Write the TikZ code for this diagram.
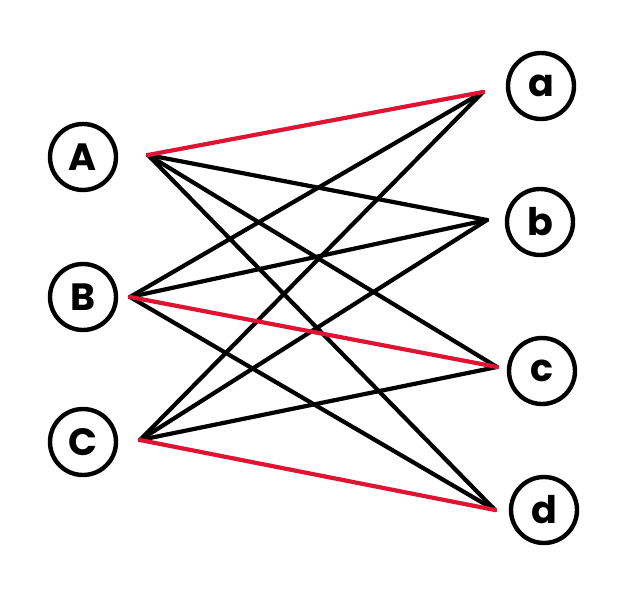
\documentclass[tikz,border=0pt]{standalone}
\usepackage{fontspec}
\setmainfont{Poppins}
\definecolor{edgered}{RGB}{222,20,50}
\begin{document}
\begin{tikzpicture}[x=1pt,y=-1pt,
  vtx/.style={circle,draw=black,line width=4.4pt,minimum size=66pt,inner sep=0pt,font=\fontsize{38}{40}\selectfont\bfseries},
  edge/.style={line width=4.2pt,line cap=round,black},
  redge/.style={edge,draw=edgered}]
\useasboundingbox (0,0) rectangle (640,593);
\node[vtx] (A) at (83,157) {A};
\node[vtx] (B) at (83,297) {B};
\node[vtx] (C) at (83,442) {C};
\node[vtx] (a) at (541,86) {a};
\node[vtx] (b) at (540,222) {b};
\node[vtx] (c) at (542,371) {c};
\node[vtx] (d) at (544,510) {d};
\coordinate (pA) at (148,155);
\coordinate (pB) at (130,297);
\coordinate (pC) at (140,440);
\coordinate (pa) at (483,92);
\coordinate (pb) at (487,220);
\coordinate (pc) at (497,367);
\coordinate (pd) at (495,510);
\draw[edge] (pA) -- (pb);
\draw[edge] (pA) -- (pc);
\draw[edge] (pA) -- (pd);
\draw[edge] (pB) -- (pa);
\draw[edge] (pB) -- (pb);
\draw[edge] (pB) -- (pd);
\draw[edge] (pC) -- (pa);
\draw[edge] (pC) -- (pb);
\draw[edge] (pC) -- (pc);
\draw[redge] (pA) -- (pa);
\draw[redge] (pB) -- (pc);
\draw[redge] (pC) -- (pd);
\end{tikzpicture}
\end{document}
